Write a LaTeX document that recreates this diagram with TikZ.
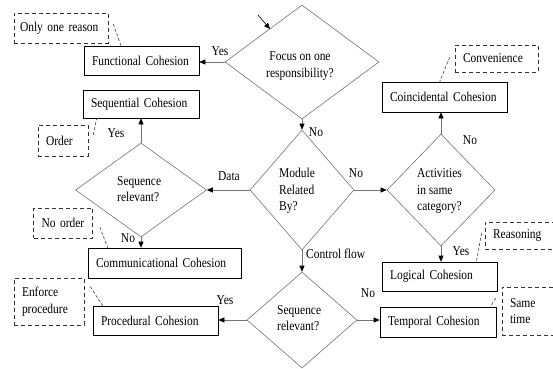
\documentclass[tikz,border=0pt]{standalone}
\usepackage{fontspec}
\setmainfont{Liberation Serif}[FakeStretch=0.85]
\usetikzlibrary{shapes.geometric,arrows.meta,calc}

\begin{document}
\begin{tikzpicture}[x=1pt,y=-1pt,
  every node/.style={font=\fontsize{13.5}{16.5}\selectfont},
  decision/.style={diamond, draw=black!55, line width=0.6pt, inner sep=0pt},
  dtext/.style={inner sep=0pt},
  box/.style={rectangle, draw=black, line width=0.6pt, inner xsep=8pt, inner ysep=0pt, align=left},
  note/.style={rectangle, draw=black!80, line width=0.6pt, dash pattern=on 4pt off 3pt, inner xsep=8pt, inner ysep=0pt, align=left},
  flow/.style={draw=black!55, line width=0.6pt, -{Triangle[length=6pt,width=5pt,color=black]}},
  tie/.style={draw=black!75, line width=0.6pt, dash pattern=on 3pt off 2pt},
  lbl/.style={inner sep=1pt}
]
\useasboundingbox (0,0) rectangle (553,368);
\clip (0,0) rectangle (553,368);

% decisions
\node[decision, minimum width=154pt, minimum height=114pt] (q1) at (302,62) {};
\node[decision, minimum width=104pt, minimum height=120pt] (mod) at (302,190) {};
\node[decision, minimum width=131pt, minimum height=94pt] (q2) at (141,190) {};
\node[decision, minimum width=108pt, minimum height=112pt] (act) at (441,190) {};
\node[decision, minimum width=110pt, minimum height=96pt] (q4) at (302,320) {};

\node[dtext, align=center] (q1t) at (300,66) {Focus on one\\responsibility?};
\node[dtext, align=left, anchor=west] (modt) at (279,191) {Module\\Related\\By?};
\node[dtext, align=left, anchor=west] (q2t) at (117,189) {Sequence\\relevant?};
\node[dtext, align=left, anchor=west] (actt) at (417,191) {Activities\\in same\\category?};
\node[dtext, align=left, anchor=west] (q4t) at (277,318) {Sequence\\relevant?};

% outcomes
\node[box, text width=99pt, minimum height=29pt] (fun) at (141.5,60.5) {Functional Cohesion};
\node[box, text width=100pt, minimum height=28pt] (seq) at (141,104) {Sequential Cohesion};
\node[box, text width=137pt, minimum height=30pt] (comm) at (164.5,263) {Communicational Cohesion};
\node[box, text width=109pt, minimum height=29pt] (proc) at (155.5,320.5) {Procedural Cohesion};
\node[box, text width=109pt, minimum height=30pt] (coin) at (444.5,97) {Coincidental Cohesion};
\node[box, text width=99pt, minimum height=29pt] (log) at (439.5,276.5) {Logical Cohesion};
\node[box, text width=100pt, minimum height=30pt] (temp) at (438,322) {Temporal Cohesion};

% annotations
\node[note, inner xsep=6pt, text width=82pt, minimum height=30pt] (onlyone) at (61,28) {Only one reason};
\node[note, text width=34pt, minimum height=31pt] (order) at (63,140.5) {Order};
\node[note, text width=43pt, minimum height=30pt] (noorder) at (63,223) {No order};
\node[note, text width=54pt, minimum height=47pt] (enforce) at (49,301.5) {Enforce\\procedure};
\node[note, text width=67pt, minimum height=27pt] (conv) at (496.5,58.5) {Convenience};
\node[note, text width=55pt, minimum height=27pt] (reason) at (520.5,235.5) {Reasoning};
\node[note, text width=38pt, minimum height=48pt] (same) at (529,311) {Same\\time};

% entry
\coordinate (start) at (258,15);
\coordinate (entry) at (270,29);
\draw[flow, draw=black] (start) -- (entry);

% flow
\draw[flow] (q1.west) -- (q1.west -| fun.east);
\draw[flow] (q1.south) -- (mod.north);
\draw[flow] (mod.west) -- (q2.east);
\draw[flow] (q2.north) -- (q2.north |- seq.south);
\draw[flow] (q2.south) -- (q2.south |- comm.north);
\draw[flow] (mod.east) -- (act.west);
\draw[flow] (act.north) -- (act.north |- coin.south);
\draw[flow] (act.south) -- (act.south |- log.north);
\draw[flow] (mod.south) -- (q4.north);
\draw[flow] (q4.west) -- (q4.west -| proc.east);
\draw[flow] (q4.east) -- (q4.east -| temp.west);

% annotation ties
\draw[tie] ($(onlyone.east)+(5,-4)$) -- ($(fun.north)+(-20.5,0)$);
\draw[tie] ($(order.east)+(5,-5.5)$) -- ($(seq.south west)+(14,0)$);
\draw[tie] ($(noorder.east)+(7,4)$) -- ($(comm.north west)+(20,0)$);
\draw[tie] ($(enforce.north east)+(6,9)$) -- ($(proc.north west)+(10,0)$);
\draw[tie] ($(conv.west)+(-5,-1.5)$) -- ($(coin.north west)+(58,0)$);
\draw[tie] ($(reason.west)+(-3,-2.5)$) -- ($(log.north east)+(-21,0)$);
\draw[tie] ($(same.west)+(-6,-13)$) -- ($(temp.north east)+(-6,0)$);

% branch labels
\node[lbl] (l1) at (220,51) {Yes};
\node[lbl] (l2) at (316,132) {No};
\node[lbl] (l3) at (116,133) {Yes};
\node[lbl] (l4) at (229,176) {Data};
\node[lbl] (l5) at (128,238) {No};
\node[lbl] (l6) at (356,173) {No};
\node[lbl] (l7) at (470,140) {No};
\node[lbl] (l8) at (461,251) {Yes};
\node[lbl, anchor=west] (l9) at (305,254) {Control flow};
\node[lbl] (l10) at (225,300) {Yes};
\node[lbl] (l11) at (368,293) {No};
\end{tikzpicture}
\end{document}
